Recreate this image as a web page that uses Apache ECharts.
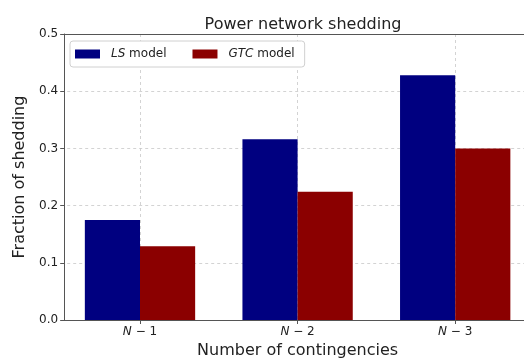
<!DOCTYPE html>
<html>
<head>
<meta charset="utf-8">
<script src="https://cdn.jsdelivr.net/npm/echarts@6/dist/echarts.min.js"></script>
<style>
  html, body { margin: 0; padding: 0; background: #fff; }
  #chart { width: 524px; height: 360px; }
</style>
</head>
<body>
<div id="chart"></div>
<script>
// Contingency levels and fraction of load shed under each model
const contingencies = ['N−1', 'N−2', 'N−3'];
const lsModel = [0.175, 0.316, 0.428];
const gtcModel = [0.129, 0.224, 0.300];
const yTicks = [0, 0.1, 0.2, 0.3, 0.4, 0.5];

const FONT = 'DejaVu Sans';
const AXIS_COLOR = '#555';
const GRID_STYLE = { color: '#c8c8c8', type: [3, 3], width: 0.8 };

const chart = echarts.init(document.getElementById('chart'), null, { renderer: 'canvas' });

chart.setOption({
  animation: false,
  backgroundColor: '#fff',
  textStyle: { fontFamily: FONT },
  title: {
    text: 'Power network shedding',
    left: 298,
    textAlign: 'center',
    top: 12,
    textStyle: { fontFamily: FONT, fontSize: 16, fontWeight: 'normal', color: '#222' }
  },
  legend: {
    left: 70,
    top: 41,
    orient: 'horizontal',
    itemWidth: 25,
    itemHeight: 9,
    itemGap: 26,
    icon: 'rect',
    padding: [7, 10, 7, 5],
    backgroundColor: '#fff',
    borderColor: '#d0d0d0',
    borderWidth: 1,
    borderRadius: 3,
    data: ['LS model', 'GTC model'],
    formatter: function (name) {
      const parts = name.split(' ');
      return '{i|' + parts[0] + '} ' + parts.slice(1).join(' ');
    },
    textStyle: {
      fontFamily: FONT,
      fontSize: 12,
      color: '#222',
      padding: [0, 0, 0, 6],
      rich: { i: { fontFamily: FONT, fontSize: 12, fontStyle: 'italic', color: '#222' } }
    }
  },
  grid: {
    left: 61.2,
    top: 34,
    width: 472.8,
    bottom: 40,
    containLabel: false,
    outerBoundsMode: 'none'
  },
  xAxis: [
    {
      type: 'category',
      data: contingencies,
      boundaryGap: true,
      name: 'Number of contingencies',
      nameLocation: 'middle',
      nameGap: 22,
      nameTextStyle: { fontFamily: FONT, fontSize: 16, color: '#222', verticalAlign: 'top' },
      axisLine: { show: true, lineStyle: { color: AXIS_COLOR, width: 1 } },
      axisTick: { show: true, alignWithLabel: true, length: 4, lineStyle: { color: AXIS_COLOR } },
      splitLine: { show: true, alignWithLabel: true, lineStyle: GRID_STYLE },
      axisLabel: {
        margin: 6,
        fontFamily: FONT,
        fontSize: 12,
        color: '#222',
        formatter: function (v) {
          return '{i|N}' + v.slice(1).replace('−', ' − ');
        },
        rich: { i: { fontFamily: FONT, fontSize: 12, fontStyle: 'italic', color: '#222' } }
      }
    },
    {
      // top frame line
      type: 'category',
      position: 'top',
      data: contingencies,
      axisLine: { show: true, lineStyle: { color: AXIS_COLOR, width: 1 } },
      axisTick: { show: false },
      axisLabel: { show: false },
      splitLine: { show: false }
    }
  ],
  yAxis: {
    type: 'value',
    min: yTicks[0],
    max: yTicks[yTicks.length - 1],
    interval: 0.1,
    offset: -3,
    name: 'Fraction of shedding',
    nameLocation: 'middle',
    nameGap: 34,
    nameTextStyle: { fontFamily: FONT, fontSize: 16, color: '#222' },
    axisLine: { show: true, lineStyle: { color: AXIS_COLOR, width: 1 } },
    axisTick: { show: true, length: 4, lineStyle: { color: AXIS_COLOR } },
    splitLine: { show: true, lineStyle: GRID_STYLE },
    axisLabel: {
      margin: 6,
      fontFamily: FONT,
      fontSize: 12,
      color: '#222',
      formatter: function (v) { return v.toFixed(1); }
    }
  },
  series: [
    {
      name: 'LS model',
      type: 'bar',
      data: lsModel,
      barWidth: '35%',
      barGap: '0%',
      itemStyle: { color: '#000080' },
      z: 3
    },
    {
      name: 'GTC model',
      type: 'bar',
      data: gtcModel,
      barWidth: '35%',
      barGap: '0%',
      itemStyle: { color: '#8b0000' },
      z: 3
    }
  ]
});
</script>
</body>
</html>
